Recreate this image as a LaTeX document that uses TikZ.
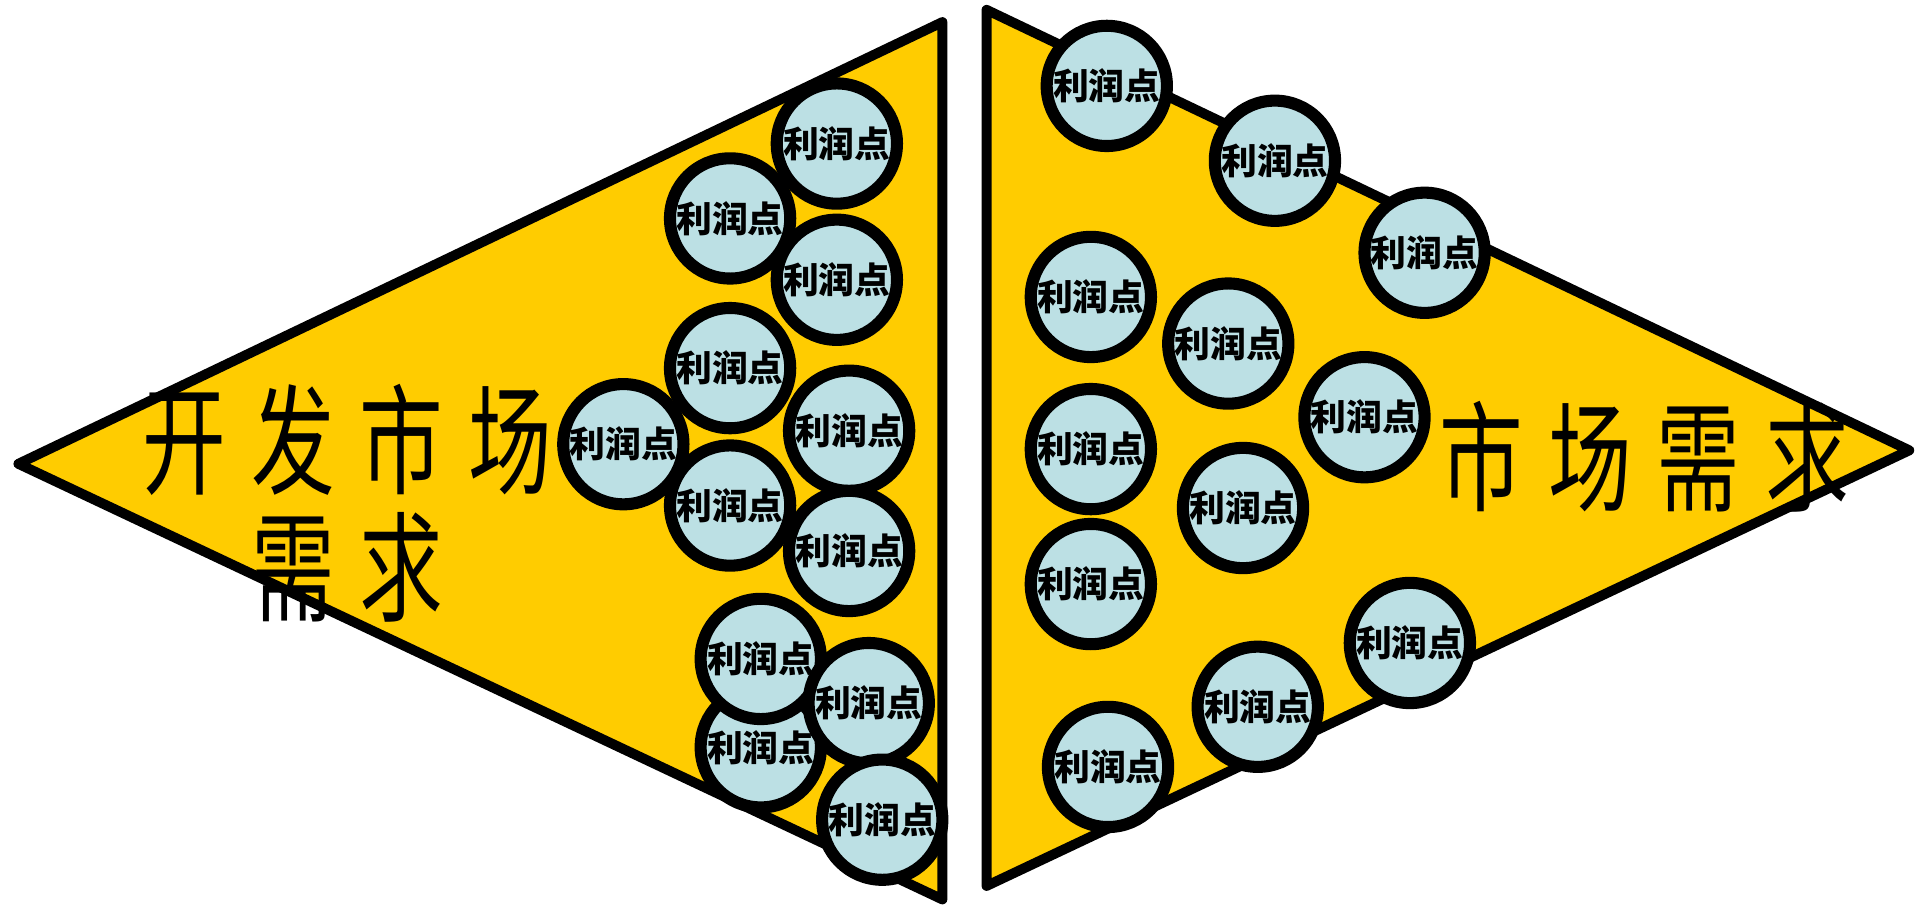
\documentclass[tikz,border=0pt]{standalone}
\usepackage{fontspec}
\newfontfamily\cjk{Noto Sans CJK SC}
\newfontfamily\bigcjk[FakeStretch=0.7,LetterSpace=21]{Noto Sans CJK SC}
\definecolor{gold}{RGB}{255,204,0}
\definecolor{paleblue}{RGB}{188,224,228}
\tikzset{
  wedge/.style={draw,fill=gold,line width=2.3pt,line join=round},
  profit/.style={circle,draw,fill=paleblue,line width=2.8pt,minimum size=0.98cm,inner sep=0pt,
    font=\cjk\bfseries\fontsize{8.3pt}{9pt}\selectfont},
  bigtext/.style={align=center,font=\bigcjk\fontsize{27.7pt}{29.5pt}\selectfont}
}
\begin{document}
\begin{tikzpicture}
\useasboundingbox (0,0) rectangle (15.68,7.38);
% two wedges
\draw[wedge] (0.15,3.60) -- (7.68,7.20) -- (7.68,0.05) -- cycle;
\draw[wedge] (8.04,7.30) -- (15.56,3.71) -- (8.04,0.16) -- cycle;
% profit points, left
\foreach \x/\y [count=\i] in {6.82/6.21,5.95/5.60,6.82/5.10,5.95/4.38,5.08/3.76,6.92/3.87,
    5.95/3.26,6.92/2.89,6.20/1.29,6.20/2.01,7.08/1.65,7.19/0.70}
  \node[profit] (l\i) at (\x,\y) {利润点};
% profit points, right
\foreach \x/\y [count=\i] in {9.02/6.68,10.39/6.07,11.61/5.32,8.89/4.96,10.01/4.58,11.12/3.98,
    8.89/3.72,10.13/3.24,8.89/2.62,11.49/2.14,10.25/1.62,9.03/1.13}
  \node[profit] (r\i) at (\x,\y) {利润点};
\node[bigtext] (dev) at (2.83,3.28) {开发市场\\需求};
\node[bigtext] (need) at (13.40,3.66) {市场需求};
\end{tikzpicture}
\end{document}
